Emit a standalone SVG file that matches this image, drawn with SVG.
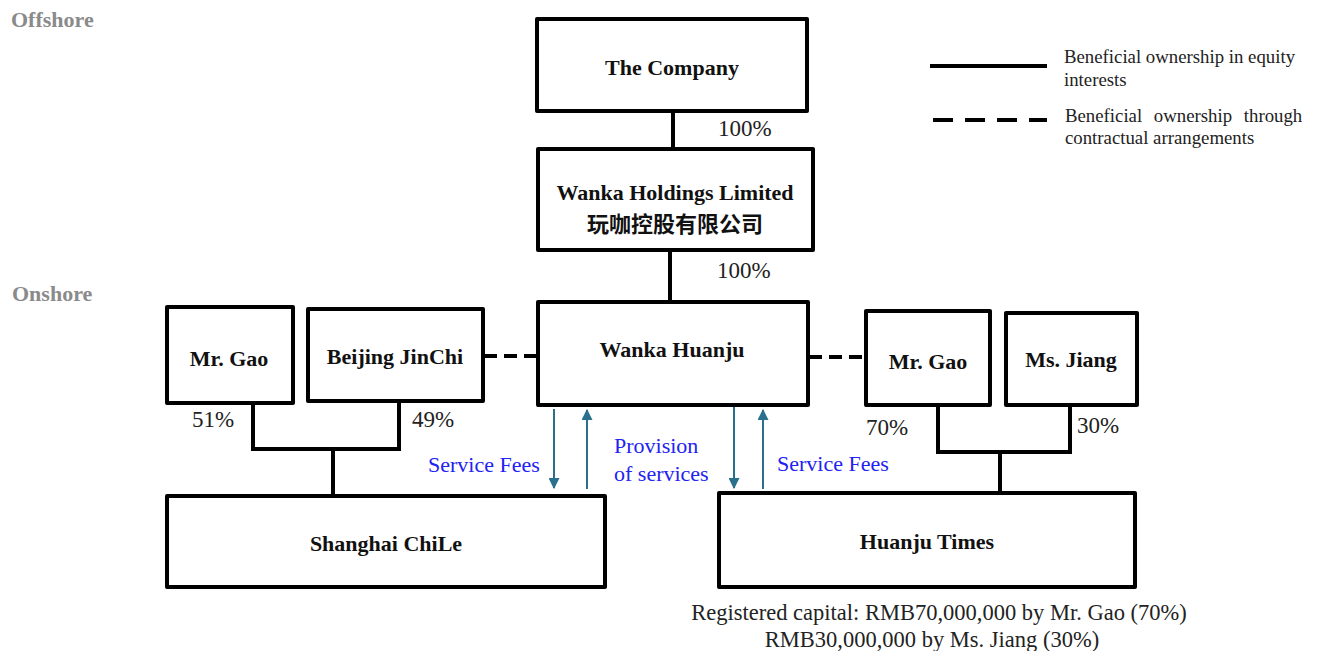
<svg xmlns="http://www.w3.org/2000/svg" width="1318" height="651" viewBox="0 0 1318 651">
<style>
.box{fill:#fff;stroke:#000;stroke-width:4;stroke-linejoin:round}
.lbl{font-family:"Liberation Serif",serif;font-weight:bold;font-size:22px;fill:#111;text-anchor:middle}
.cjk{font-family:"Noto Sans CJK SC",sans-serif;font-weight:bold;font-size:22px;fill:#111;text-anchor:middle}
.pct{font-family:"Liberation Serif",serif;font-size:23px;fill:#222}
.blue{font-family:"Liberation Serif",serif;font-size:22px;fill:#2222f2}
.zone{font-family:"Liberation Serif",serif;font-weight:bold;font-size:22px;fill:#8a8a8a}
.leg{font-family:"Liberation Serif",serif;font-size:18.8px;fill:#222}
.note{font-family:"Liberation Serif",serif;font-size:22.5px;fill:#222;text-anchor:middle}
.solid{fill:none;stroke:#000;stroke-width:4}
.dash{fill:none;stroke:#000;stroke-width:4;stroke-dasharray:13 7}
.arr{fill:none;stroke:#2a6f8c;stroke-width:2}
</style>
<defs>
<marker id="ah" viewBox="0 0 10 10" refX="9" refY="5" markerWidth="11" markerHeight="11" markerUnits="userSpaceOnUse" orient="auto">
<path d="M0,0 L10,5 L0,10 z" fill="#2a6f8c"/>
</marker>
</defs>
<rect width="1318" height="651" fill="#fff"/>
<text class="zone" x="11" y="27">Offshore</text>
<text class="zone" x="12" y="301">Onshore</text>

<g id="legend">
<line class="solid" x1="930" y1="66" x2="1047" y2="66"/>
<line class="solid" x1="933" y1="120" x2="1047" y2="120" stroke-dasharray="20 12"/>
<text class="leg" x="1064" y="63">Beneficial ownership in equity</text>
<text class="leg" x="1064" y="86">interests</text>
<text class="leg" x="1065" y="122" word-spacing="7">Beneficial ownership through</text>
<text class="leg" x="1065" y="144">contractual arrangements</text>
</g>

<g id="connectors">
<line class="solid" x1="673" y1="111" x2="673" y2="149"/>
<line class="solid" x1="670" y1="250" x2="670" y2="302"/>
<polyline class="solid" points="253,403 253,449 399,449 399,401"/>
<line class="solid" x1="333" y1="449" x2="333" y2="496"/>
<polyline class="solid" points="938,405 938,452 1070,452 1070,405"/>
<line class="solid" x1="1000" y1="452" x2="1000" y2="493"/>
<line class="dash" x1="484" y1="356" x2="537" y2="356"/>
<line class="dash" x1="809" y1="357" x2="865" y2="357"/>
<line class="arr" x1="554" y1="409" x2="554" y2="488" marker-end="url(#ah)"/>
<line class="arr" x1="587" y1="489" x2="587" y2="410" marker-end="url(#ah)"/>
<line class="arr" x1="734" y1="407" x2="734" y2="488" marker-end="url(#ah)"/>
<line class="arr" x1="763" y1="489" x2="763" y2="410" marker-end="url(#ah)"/>
<text class="pct" x="718" y="136">100%</text>
<text class="pct" x="717" y="278">100%</text>
<text class="pct" x="192" y="427">51%</text>
<text class="pct" x="412" y="427">49%</text>
<text class="pct" x="866" y="435">70%</text>
<text class="pct" x="1077" y="433">30%</text>
<text class="blue" x="428" y="472">Service Fees</text>
<text class="blue" x="614" y="453">Provision</text>
<text class="blue" x="614" y="481">of services</text>
<text class="blue" x="777" y="471">Service Fees</text>
</g>

<g id="company">
<rect class="box" x="537" y="19" width="270" height="92"/>
<text class="lbl" x="672" y="75">The Company</text>
</g>
<g id="wanka-holdings">
<rect class="box" x="538" y="149" width="275" height="101"/>
<text class="lbl" x="675" y="200">Wanka Holdings Limited</text>
<text class="cjk" x="675" y="232">玩咖控股有限公司</text>
</g>
<g id="wanka-huanju">
<rect class="box" x="538" y="302" width="270" height="103"/>
<text class="lbl" x="672" y="357">Wanka Huanju</text>
</g>
<g id="mr-gao-left">
<rect class="box" x="167" y="307" width="126" height="96"/>
<text class="lbl" x="229" y="366">Mr. Gao</text>
</g>
<g id="beijing-jinchi">
<rect class="box" x="308" y="309" width="175" height="92"/>
<text class="lbl" x="395" y="364">Beijing JinChi</text>
</g>
<g id="mr-gao-right">
<rect class="box" x="866" y="311" width="124" height="94"/>
<text class="lbl" x="928" y="369">Mr. Gao</text>
</g>
<g id="ms-jiang">
<rect class="box" x="1006" y="313" width="131" height="92"/>
<text class="lbl" x="1071" y="367">Ms. Jiang</text>
</g>
<g id="shanghai-chile">
<rect class="box" x="167" y="496" width="438" height="91"/>
<text class="lbl" x="386" y="551">Shanghai ChiLe</text>
</g>
<g id="huanju-times">
<rect class="box" x="719" y="493" width="416" height="94"/>
<text class="lbl" x="927" y="549">Huanju Times</text>
</g>
<g id="note">
<text class="note" x="939" y="620">Registered capital: RMB70,000,000 by Mr. Gao (70%)</text>
<text class="note" x="932" y="647">RMB30,000,000 by Ms. Jiang (30%)</text>
</g>
</svg>
